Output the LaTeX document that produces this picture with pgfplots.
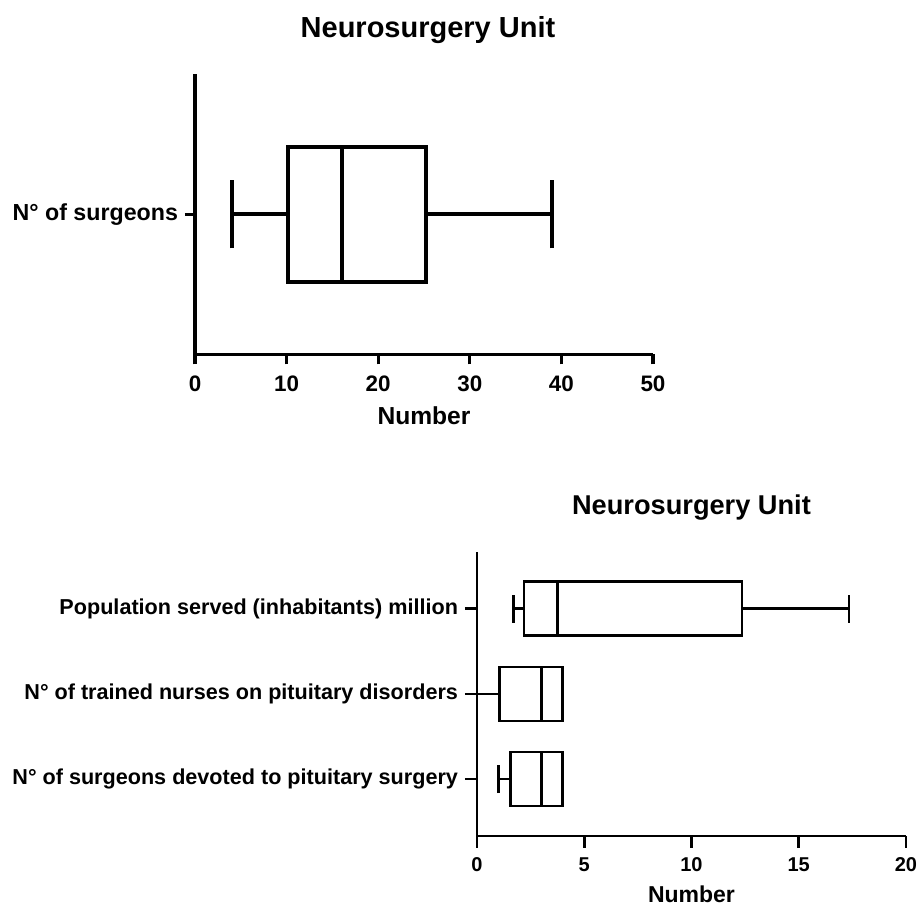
\documentclass[border=0pt]{standalone}
\usepackage{fontspec}
\setmainfont{Liberation Sans}
\usepackage{pgfplots}
\pgfplotsset{compat=1.18}
\usepgfplotslibrary{statistics}

\pgfplotsset{
  panel/.style={
    scale only axis,
    axis x line=bottom, axis y line=left,
    axis line style={-, black},
    tick align=outside,
    tick style={black},
    boxplot/draw direction=x,
    clip=false,
    /pgf/number format/assume math mode=true,
    title={Neurosurgery Unit},
    xlabel={Number},
    title style={at={(axis description cs:0.5,1)}, anchor=base},
    xlabel style={at={(axis description cs:0.5,0)}, anchor=base},
    xticklabel style={anchor=base},
    yticklabel style={anchor=east, align=right},
  },
}

\begin{document}
\begin{tikzpicture}
\useasboundingbox (0pt,0pt) rectangle (458.5pt,454pt);

% upper panel
\begin{axis}[panel,
  at={(97.5pt,276.85pt)}, anchor=south west,
  width=229pt, height=140.15pt,
  xmin=0, xmax=50, xtick={0,10,...,50},
  ymin=0, ymax=2, ytick={1}, yticklabels={N° of surgeons},
  axis line style={line width=1.6pt},
  major tick style={line width=1.6pt},
  major tick length=5pt,
  title style={yshift=12.25pt, xshift=2pt, font=\bfseries\fontsize{14.5}{17}\selectfont},
  xlabel style={yshift=-35pt, font=\bfseries\fontsize{12.3}{14}\selectfont},
  xticklabel style={yshift=-13.5pt, font=\bfseries\fontsize{11.2}{13}\selectfont},
  yticklabel style={font=\bfseries\fontsize{11.6}{13}\selectfont},
]
\addplot[black, line width=2pt, boxplot prepared={draw position=1,
  lower whisker=4, lower quartile=10.2, median=16,
  upper quartile=25.2, upper whisker=39,
  box extend=0.965, whisker extend=0.49}] coordinates {};
\end{axis}

% lower panel
\begin{axis}[panel,
  at={(238.5pt,36pt)}, anchor=south west,
  width=214.5pt, height=142.15pt,
  xmin=0, xmax=20, xtick={0,5,...,20},
  ymin=0.33, ymax=3.67, ytick={1,2,3},
  yticklabels={N° of surgeons devoted to pituitary surgery,
               N° of trained nurses on pituitary disorders,
               Population served (inhabitants) million},
  axis line style={line width=1.3pt},
  major tick style={line width=1.3pt},
  major tick length=6pt,
  title style={yshift=12.35pt, font=\bfseries\fontsize{13.6}{16}\selectfont},
  xlabel style={yshift=-33.5pt, font=\bfseries\fontsize{11.5}{14}\selectfont},
  xticklabel style={yshift=-12pt, font=\bfseries\fontsize{10}{12}\selectfont},
  yticklabel style={font=\bfseries\fontsize{10.8}{13}\selectfont},
]
\addplot[black, line width=1.3pt, boxplot prepared={draw position=3,
  lower whisker=1.7, lower quartile=2.2, median=3.75,
  upper quartile=12.35, upper whisker=17.35,
  box extend=0.635, whisker extend=0.33}] coordinates {};
\addplot[black, line width=1.3pt, boxplot prepared={draw position=2,
  lower whisker=0, lower quartile=1.05, median=3,
  upper quartile=4, upper whisker=4,
  box extend=0.635, whisker extend=0.33}] coordinates {};
\addplot[black, line width=1.3pt, boxplot prepared={draw position=1,
  lower whisker=1, lower quartile=1.55, median=3,
  upper quartile=4, upper whisker=4,
  box extend=0.635, whisker extend=0.33}] coordinates {};
\end{axis}
\end{tikzpicture}
\end{document}
